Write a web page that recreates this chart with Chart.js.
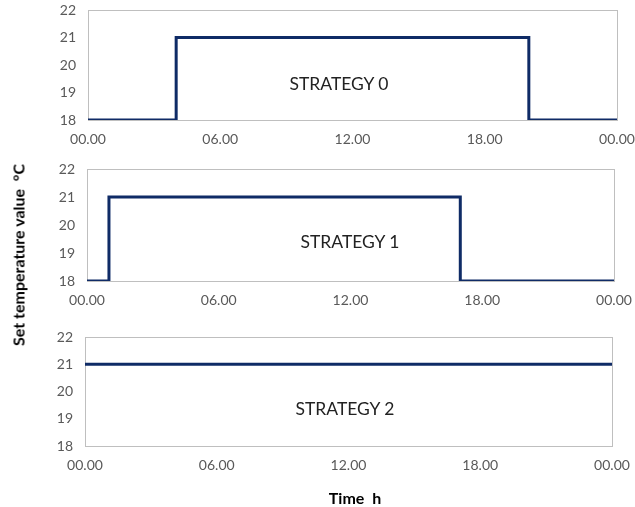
<!DOCTYPE html>
<html>
<head>
<meta charset="utf-8">
<script src="https://cdn.jsdelivr.net/npm/chart.js@4"></script>
<style>
  body { margin: 0; background: #fff; width: 635px; height: 507px; position: relative; overflow: hidden; font-family: Lato, "Open Sans", sans-serif; }
  canvas { position: absolute; left: 0; }
  .label { position: absolute; font-size: 17.5px; color: #222; white-space: nowrap; transform: translate(-50%, -50%); }
  .title { position: absolute; font-weight: bold; font-size: 16px; color: #000; white-space: nowrap; transform: translate(-50%, -50%); }
</style>
</head>
<body>
<canvas id="chart0"></canvas>
<canvas id="chart1"></canvas>
<canvas id="chart2"></canvas>
<div class="label" style="left:339px; top:83px;">STRATEGY 0</div>
<div class="label" style="left:350px; top:241px;">STRATEGY 1</div>
<div class="label" style="left:345px; top:408px;">STRATEGY 2</div>
<div class="title" style="left:18px; top:255px; transform: translate(-50%, -50%) rotate(-90deg);">Set temperature value&nbsp;&nbsp;°C</div>
<div class="title" style="left:355px; top:497px;">Time&nbsp;&nbsp;h</div>
<script>
// set point changes: hour of day and set temperature (°C) from that hour on
const strategy0Hours = [0, 4, 20, 24];
const strategy0Temps = [18, 21, 18, 18];
const strategy1Hours = [0, 1, 17, 24];
const strategy1Temps = [18, 21, 18, 18];
const strategy2Hours = [0, 24];
const strategy2Temps = [21, 21];

const hourTicks = [0, 6, 12, 18, 24];
const tempTicks = [18, 19, 20, 21, 22];

const lineColor = '#0f2b66';
const tickColor = '#595959';
const borderColor = '#bfbfbf';

// Draws the grey frame around the plot area
const framePlugin = {
    id: 'frame',
    beforeDatasetsDraw(chart) {
        const a = chart.chartArea;
        const ctx = chart.ctx;
        ctx.save();
        ctx.strokeStyle = borderColor;
        ctx.lineWidth = 1;
        ctx.strokeRect(Math.round(a.left) + 0.5, Math.round(a.top) + 0.5,
            Math.round(a.right - a.left), Math.round(a.bottom - a.top));
        ctx.restore();
    }
};

function formatHour(h) {
    const v = h % 24;
    return (v < 10 ? '0' : '') + v + '.00';
}

// Function to build one panel
function makePanel(id, hours, temps, top, height, left, right) {
    const canvas = document.getElementById(id);
    canvas.style.top = top + 'px';
    canvas.width = 635;
    canvas.height = height;
    canvas.style.width = '635px';
    canvas.style.height = height + 'px';

    const points = hours.map((h, i) => ({ x: h, y: temps[i] }));

    new Chart(canvas, {
        type: 'line',
        data: {
            datasets: [{
                data: points,
                stepped: 'before',
                borderColor: lineColor,
                borderWidth: 3,
                pointRadius: 0,
                fill: false
            }]
        },
        options: {
            responsive: false,
            animation: false,
            layout: { padding: { top: 10, right: 635 - right, left: 0, bottom: 0 } },
            plugins: { legend: { display: false }, tooltip: { enabled: false } },
            scales: {
                x: {
                    type: 'linear',
                    min: 0,
                    max: 24,
                    afterBuildTicks: axis => { axis.ticks = hourTicks.map(v => ({ value: v })); },
                    afterFit: axis => {
                        axis.height = 35;
                        axis.paddingLeft = 0;
                        axis.paddingRight = 0;
                    },
                    grid: { display: false, drawTicks: false },
                    border: { display: false },
                    ticks: {
                        color: tickColor,
                        padding: 11,
                        maxRotation: 0,
                        font: { family: 'Lato', size: 14 },
                        callback: v => formatHour(v)
                    }
                },
                y: {
                    min: 18,
                    max: 22,
                    afterBuildTicks: axis => { axis.ticks = tempTicks.map(v => ({ value: v })); },
                    afterFit: axis => {
                        axis.width = left;
                        axis.paddingTop = 0;
                        axis.paddingBottom = 0;
                    },
                    grid: { display: false, drawTicks: false },
                    border: { display: false },
                    ticks: {
                        color: tickColor,
                        padding: 12,
                        font: { family: 'Lato', size: 14 }
                    }
                }
            }
        },
        plugins: [framePlugin]
    });
}

makePanel('chart0', strategy0Hours, strategy0Temps, 0, 155, 88, 617);
makePanel('chart1', strategy1Hours, strategy1Temps, 159, 157, 87, 614);
makePanel('chart2', strategy2Hours, strategy2Temps, 327, 154, 85, 612);
</script>
</body>
</html>
